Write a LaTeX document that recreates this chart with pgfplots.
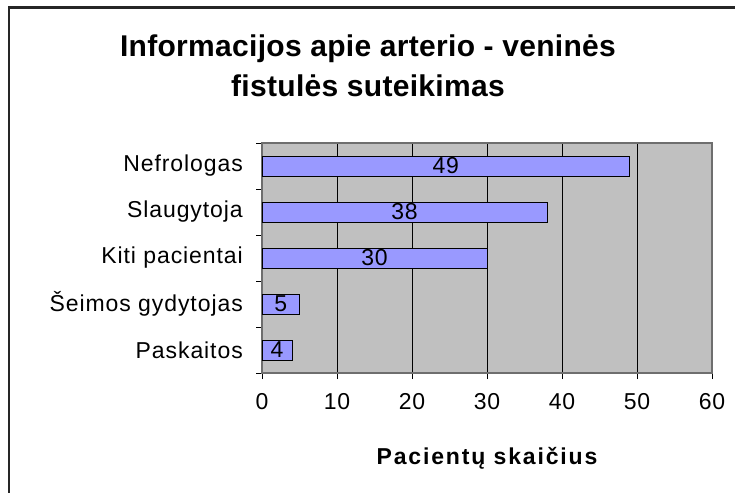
\documentclass[border=0pt]{standalone}
\usepackage{pgfplots}
\pgfplotsset{compat=1.18}
\usepackage{fontspec}
\setmainfont{Liberation Sans}
\newfontfamily\lblfont[LetterSpace=4]{Liberation Sans}
\newfontfamily\ttlfont[LetterSpace=1]{Liberation Sans}
\newfontfamily\axfont[LetterSpace=8]{Liberation Sans}
\definecolor{barfill}{HTML}{9999FF}
\definecolor{plotbg}{HTML}{C0C0C0}
\definecolor{axgray}{HTML}{6E6E6E}
\definecolor{framecol}{HTML}{262626}
\pgfplotstableread{
y x
0 4
1 5
2 30
3 38
4 49
}\datatable
\begin{document}
\begin{tikzpicture}
\useasboundingbox (0pt,0pt) rectangle (736pt,493pt);
\fill[framecol] (8pt,0pt) rectangle (10.2pt,486.5pt);
\fill[framecol] (8pt,483.5pt) rectangle (735pt,486.5pt);
\node[anchor=base, font=\ttlfont\bfseries\fontsize{30}{34}\selectfont] at (368pt,436pt) {Informacijos apie arterio - veninės};
\node[anchor=base, font=\ttlfont\bfseries\fontsize{30}{34}\selectfont] at (368pt,396pt) {fistulės suteikimas};
\begin{axis}[
  at={(262pt,120pt)}, anchor=south west,
  scale only axis, width=450pt, height=230pt,
  xmin=0, xmax=60, ymin=-0.5, ymax=4.5,
  xtick={0,10,...,60},
  ytick={-0.5,0.5,1.5,2.5,3.5,4.5},
  yticklabels={Paskaitos,Šeimos gydytojas,Kiti pacientai,Slaugytoja,Nefrologas,{}},
  yticklabel style={yshift=23pt, font=\lblfont\fontsize{23}{25}\selectfont, anchor=east, xshift=-13pt, inner sep=0pt},
  xticklabel style={font=\lblfont\fontsize{23}{25}\selectfont, yshift=-11pt},
  /pgf/number format/assume math mode=true,
  xtick pos=bottom, ytick pos=left,
  tick align=outside,
  major tick length=6pt,
  tick style={draw=black, line width=0.8pt},
  xmajorgrids,
  grid style={black, line width=0.8pt},
  axis line style={draw=axgray, line width=1.2pt},
  axis background/.style={fill=plotbg},
  xlabel={Pacientų skaičius},
  xlabel style={font=\axfont\bfseries\fontsize{23}{25}\selectfont, yshift=-31pt},
  xbar, bar width=20pt,
  visualization depends on={x \as \rawx},
  nodes near coords,
  every node near coord/.append style={anchor=center, font=\lblfont\fontsize{23}{25}\selectfont, shift={(axis direction cs:-\rawx/2,0)}},
]
\addplot[fill=barfill, draw=black, line width=1pt] table[x=x,y=y] {\datatable};
\end{axis}
\end{tikzpicture}
\end{document}
